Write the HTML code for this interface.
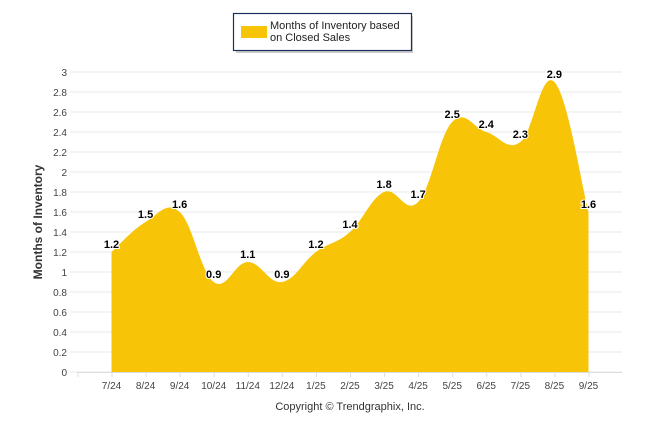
<!DOCTYPE html>
<html><head><meta charset="utf-8"><style>
body{margin:0;background:#fff;width:646px;height:434px;overflow:hidden;font-family:"Liberation Sans",Arial,sans-serif}
</style></head><body>
<svg id="chart" width="646" height="434" xmlns="http://www.w3.org/2000/svg">
<g id="grid"></g>
<path id="area" fill="#F7C407"/>
<g id="axes"></g>
<g id="labels"></g>
<text transform="translate(42,222) rotate(-90)" text-anchor="middle" font-size="12" font-weight="bold" fill="#333">Months of Inventory</text>
<text x="350" y="410" text-anchor="middle" font-size="11" fill="#333">Copyright © Trendgraphix, Inc.</text>
<g>
<rect x="236" y="16" width="177" height="37" fill="#999" opacity="0.5"/>
<rect x="233.5" y="13.5" width="178" height="37" fill="#fff" stroke="#1c2f5a" stroke-width="1.2"/>
<rect x="241" y="26" width="26" height="12" fill="#F7C407"/>
<text x="270" y="29" font-size="11" fill="#222">Months of Inventory based</text>
<text x="270" y="41" font-size="11" fill="#222">on Closed Sales</text>
</g>
</svg>
<script>
const categories=["7/24","8/24","9/24","10/24","11/24","12/24","1/25","2/25","3/25","4/25","5/25","6/25","7/25","8/25","9/25"];
const values=[1.2,1.5,1.6,0.9,1.1,0.9,1.2,1.4,1.8,1.7,2.5,2.4,2.3,2.9,1.6];
const yTicks=[0,0.2,0.4,0.6,0.8,1,1.2,1.4,1.6,1.8,2,2.2,2.4,2.6,2.8,3];
const NS="http://www.w3.org/2000/svg";
const x0=111.5,step=34.07,yb=372,ppu=100;
const X=i=>x0+i*step, Y=v=>yb-v*ppu;
function mk(t,a,p,txt){const e=document.createElementNS(NS,t);for(const k in a)e.setAttribute(k,a[k]);if(txt!=null)e.textContent=txt;p.appendChild(e);return e;}
const grid=document.getElementById('grid'),axes=document.getElementById('axes'),labels=document.getElementById('labels');
yTicks.forEach(v=>{
 const l=mk('line',{x1:70,x2:622,y1:Y(v),y2:Y(v),stroke:'#e8e8e8'},grid);
 
 
 const t=mk('text',{x:67,y:Y(v)+4,'text-anchor':'end','font-size':10,fill:'#444'},axes,String(v));
 
 
});
mk('line',{x1:77,x2:622,y1:yb+0.5,y2:yb+0.5,stroke:'#ddd'},axes);
for(let i=-1;i<categories.length;i++){mk('line',{x1:X(i)+0.5,x2:X(i)+0.5,y1:yb,y2:yb+5,stroke:'#ddd'},axes);}
categories.forEach((c,i)=>{
 const t=mk('text',{x:X(i),y:389,'text-anchor':'middle','font-size':10,fill:'#444'},axes,c);
 
 
});
const pts=values.map((v,i)=>[X(i),Y(v)]);
let d=`M${pts[0][0]},${yb} L${pts[0][0]},${pts[0][1]}`;
const s=0.3;
for(let i=0;i<pts.length-1;i++){
 const p0=pts[Math.max(i-1,0)],p1=pts[i],p2=pts[i+1],p3=pts[Math.min(i+2,pts.length-1)];
 const c1=[p1[0]+(p2[0]-p0[0])*s/2*1.3,p1[1]+(p2[1]-p0[1])*s/2*1.3];
 const c2=[p2[0]-(p3[0]-p1[0])*s/2*1.3,p2[1]-(p3[1]-p1[1])*s/2*1.3];
 d+=` C${c1[0]},${c1[1]} ${c2[0]},${c2[1]} ${p2[0]},${p2[1]}`;
}
d+=` L${pts[pts.length-1][0]},${yb} Z`;
document.getElementById('area').setAttribute('d',d);
values.forEach((v,i)=>{
 const t=mk('text',{x:X(i),y:Y(v)-4,'text-anchor':'middle','font-size':11,'font-weight':'bold',fill:'#000',stroke:'#fff','stroke-width':2,'paint-order':'stroke'},labels,String(v));
 
 
});
</script>
</body></html>
